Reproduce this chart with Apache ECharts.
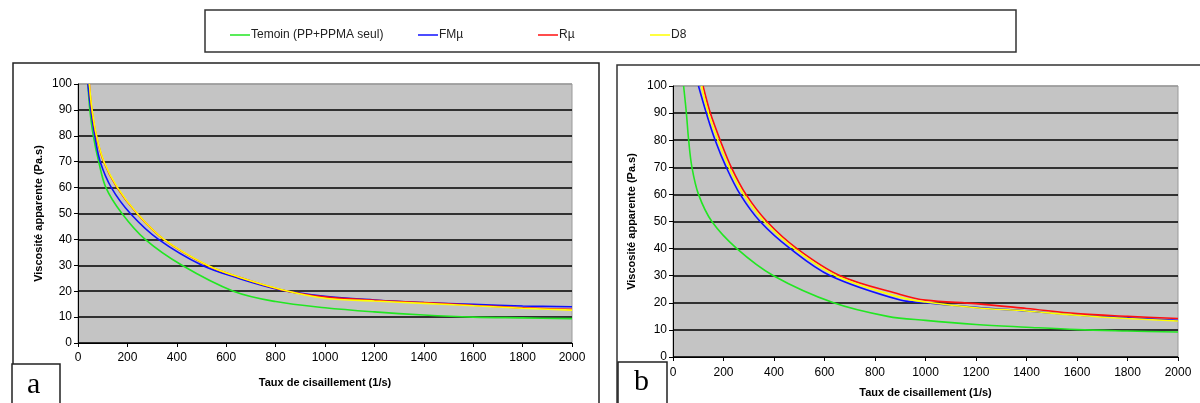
<!DOCTYPE html>
<html>
<head>
<meta charset="utf-8">
<script src="https://cdn.jsdelivr.net/npm/echarts@6/dist/echarts.min.js"></script>
<style>
html,body{margin:0;padding:0;background:#fff;}
#c{width:1200px;height:403px;}
</style>
</head>
<body>
<div id="c"></div>
<script>
// ---- Data (shear rate 1/s, apparent viscosity Pa.s) ----
const seriesNames = ['Temoin (PP+PPMA seul)', 'FMµ', 'Rµ', 'D8'];
const xTicks = [0, 200, 400, 600, 800, 1000, 1200, 1400, 1600, 1800, 2000];
const yTicks = [0, 10, 20, 30, 40, 50, 60, 70, 80, 90, 100];

// Panel a
const aTemoin = [[40,100],[48,90],[62,80],[84,70],[113,60],[178,50],[272,40],[421,30],[629,20],[800,16],[1000,13.6],[1200,12],[1400,10.8],[1600,10],[1800,9.7],[2000,9.4]];
const aFM = [[40,100],[52,90],[68,80],[90,70],[135,60],[212,50],[326,40],[502,30],[650,25],[820,20.5],[1000,18],[1200,16.6],[1400,15.6],[1600,14.9],[1800,14.3],[2000,14]];
const aR = [[46,100],[56,90],[74,80],[104,70],[158,60],[239,50],[347,40],[522,30],[650,25.5],[825,20.5],[1000,17.8],[1200,16.5],[1400,15.6],[1600,14.6],[1800,13.6],[2000,13]];
const aD8 = [[46,100],[57,90],[75,80],[105,70],[160,60],[240,50],[348,40],[524,30],[650,25.5],[830,20.5],[1000,17.3],[1200,16.2],[1400,15.3],[1600,14.4],[1800,13.4],[2000,12.7]];

// Panel b
const bTemoin = [[42,100],[53,90],[62,80],[75,70],[101,60],[154,50],[253,40],[398,30],[636,20],[850,15],[1000,13.5],[1200,12],[1400,11],[1600,10.1],[1800,9.6],[2000,9.2]];
const bFM = [[101,100],[132,90],[167,80],[211,70],[266,60],[345,50],[464,40],[623,30],[900,21],[1000,20],[1200,18.3],[1400,17],[1600,15.5],[1800,14.5],[2000,13.5]];
const bR = [[119,100],[148,90],[187,80],[231,70],[289,60],[372,50],[491,40],[662,30],[900,23.1],[1000,21],[1200,19.7],[1400,17.9],[1600,16],[1800,15],[2000,14.2]];
const bD8 = [[113,100],[140,90],[178,80],[222,70],[280,60],[362,50],[480,40],[645,30],[900,22],[1000,20.3],[1200,18.2],[1400,17],[1600,15.4],[1800,14.2],[2000,13.3]];

const colors = ['#22e622', '#1010ff', '#ff1010', '#ffff00'];
const font = '"Liberation Sans", Arial, sans-serif';

const chart = echarts.init(document.getElementById('c'), null, {renderer: 'canvas'});

const splitColors = yTicks.map((v, i) => i === yTicks.length - 1 ? '#9a9a9a' : '#000');

function xAxis(gi, gap, margin) {
  return {
    type: 'value', gridIndex: gi, min: 0, max: 2000, interval: 200,
    name: 'Taux de cisaillement (1/s)', nameLocation: 'middle', nameGap: gap,
    nameTextStyle: {fontFamily: font, fontSize: 11, fontWeight: 'bold', color: '#000'},
    axisLine: {show: true, onZero: false, lineStyle: {color: '#000', width: 1}},
    axisTick: {show: true, length: 4, lineStyle: {color: '#000'}},
    axisLabel: {fontFamily: font, fontSize: 12, color: '#000', margin: margin, formatter: v => String(v)},
    splitLine: {show: false}
  };
}
function yAxis(gi, gap) {
  return {
    type: 'value', gridIndex: gi, min: 0, max: 100, interval: 10,
    name: 'Viscosité apparente (Pa.s)', nameLocation: 'middle', nameGap: gap, nameRotate: 90,
    nameTextStyle: {fontFamily: font, fontSize: 11, fontWeight: 'bold', color: '#000'},
    axisLine: {show: true, lineStyle: {color: '#000', width: 1}},
    axisTick: {show: true, length: 4, lineStyle: {color: '#000'}},
    axisLabel: {fontFamily: font, fontSize: 12, color: '#000', margin: 6, formatter: v => String(v)},
    splitLine: {show: true, lineStyle: {color: splitColors, width: 1.5}}
  };
}
function line(name, data, gi, ci) {
  return {
    name: name, type: 'line', xAxisIndex: gi, yAxisIndex: gi, data: data,
    smooth: 0.35, showSymbol: false, symbol: 'none', animation: false,
    lineStyle: {color: colors[ci], width: 1.6}, itemStyle: {color: colors[ci]}
  };
}

const legendPos = [225, 413, 533, 645];
const legends = seriesNames.map((n, i) => ({
  data: [n], left: legendPos[i], top: 24, orient: 'horizontal',
  icon: 'rect', itemWidth: 20, itemHeight: 1.5, itemGap: 2,
  textStyle: {fontFamily: font, fontSize: 12, color: '#222', padding: [0, 0, 0, -4]},
  selectedMode: false
}));

chart.setOption({
  backgroundColor: '#fff',
  animation: false,
  legend: legends,
  grid: [
    {left: 78, top: 84, width: 494, height: 259, show: true, backgroundColor: '#c4c4c4', borderColor: '#9a9a9a', borderWidth: 1},
    {left: 673, top: 86, width: 505, height: 271, show: true, backgroundColor: '#c4c4c4', borderColor: '#9a9a9a', borderWidth: 1}
  ],
  xAxis: [xAxis(0, 34, 9), xAxis(1, 30, 10)],
  yAxis: [yAxis(0, 34), yAxis(1, 36)],
  series: [
    line(seriesNames[0], aTemoin, 0, 0),
    line(seriesNames[1], aFM, 0, 1),
    line(seriesNames[2], aR, 0, 2),
    line(seriesNames[3], aD8, 0, 3),
    line(seriesNames[0], bTemoin, 1, 0),
    line(seriesNames[1], bFM, 1, 1),
    line(seriesNames[2], bR, 1, 2),
    line(seriesNames[3], bD8, 1, 3)
  ],
  graphic: [
    {type: 'rect', shape: {x: 205, y: 10, width: 811, height: 42}, style: {fill: 'none', stroke: '#333', lineWidth: 1.5}, z: 1},
    {type: 'rect', shape: {x: 13, y: 63, width: 586, height: 345}, style: {fill: 'none', stroke: '#222', lineWidth: 1.5}, z: 1},
    {type: 'rect', shape: {x: 617, y: 65, width: 600, height: 345}, style: {fill: 'none', stroke: '#333', lineWidth: 1.5}, z: 1},
    {type: 'rect', shape: {x: 12, y: 364, width: 48, height: 45}, style: {fill: '#fff', stroke: '#222', lineWidth: 1.5}, z: 10},
    {type: 'rect', shape: {x: 618, y: 362, width: 49, height: 45}, style: {fill: '#fff', stroke: '#222', lineWidth: 1.5}, z: 10},
    {type: 'text', left: 27, top: 370, style: {text: 'a', font: '30px "Liberation Serif", "Times New Roman", serif', fill: '#000'}, z: 11},
    {type: 'text', left: 634, top: 367, style: {text: 'b', font: '30px "Liberation Serif", "Times New Roman", serif', fill: '#000'}, z: 11}
  ]
});
</script>
</body>
</html>
